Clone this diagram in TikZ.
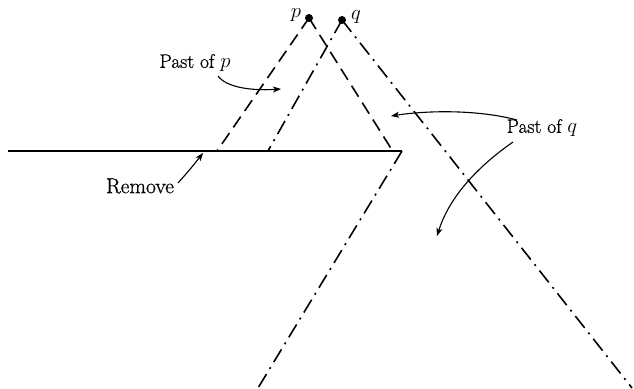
\documentclass[tikz,border=0pt]{standalone}
\usepackage{fontspec}
\setmainfont{Latin Modern Roman}[FakeBold=0.8]
\usetikzlibrary{arrows.meta}
\begin{document}
\begin{tikzpicture}[x=1pt,y=-1pt,
  surface/.style={line width=2pt},
  pcone/.style={line width=1.6pt,dash pattern=on 13pt off 7pt},
  qcone/.style={line width=1.6pt,dash pattern=on 15pt off 6pt on 2pt off 6pt},
  pointer/.style={line width=1.1pt,-{Stealth[length=8pt,width=6pt,inset=2pt]}},
  lbl/.style={font=\fontsize{19.5}{22}\selectfont,inner sep=0pt}]
\useasboundingbox (0,0) rectangle (634,388);
% events
\coordinate (p) at (309,18);
\coordinate (q) at (342,20);
% surface
\coordinate (hl) at (8,151);
\coordinate (hr) at (402,151);
\coordinate (pl) at (217,151);
\coordinate (pr) at (392,150);
\coordinate (ql) at (268,151);
\coordinate (qr) at (632,388);
\coordinate (lb) at (258,388);
\draw[surface] (hl) -- (hr);
\draw[pcone] (p) -- (pl);
\draw[pcone] (p) -- (pr);
\draw[qcone] (q) -- (ql);
\draw[qcone] (q) -- (qr);
\draw[qcone] (hr) -- (lb);
\fill (p) circle (4);
\fill (q) circle (4);
\node[lbl] (plabel) at (296,15) {$p$};
\node[lbl] (qlabel) at (356,17) {$q$};
% labels
\node[lbl] (pastp) at (195,63) {Past of $p$};
\node[lbl] (pastq) at (542,128) {Past of $q$};
\node[lbl,font=\fontsize{21.5}{24}\selectfont] (remove) at (140,186) {Remove};
\coordinate (a1s) at (218,76);
\coordinate (a1e) at (281,89);
\coordinate (a2s) at (517,120);
\coordinate (a2e) at (391,116);
\coordinate (a3s) at (513,142);
\coordinate (a3e) at (437,236);
\coordinate (a4s) at (178,183);
\coordinate (a4e) at (203,153);
\draw[pointer] (a1s) .. controls (226,87) and (250,91) .. (a1e);
\draw[pointer] (a2s) .. controls (480,110) and (430,110) .. (a2e);
\draw[pointer] (a3s) .. controls (480,165) and (450,195) .. (a3e);
\draw[pointer] (a4s) .. controls (188,172) and (196,162) .. (a4e);
\end{tikzpicture}
\end{document}
